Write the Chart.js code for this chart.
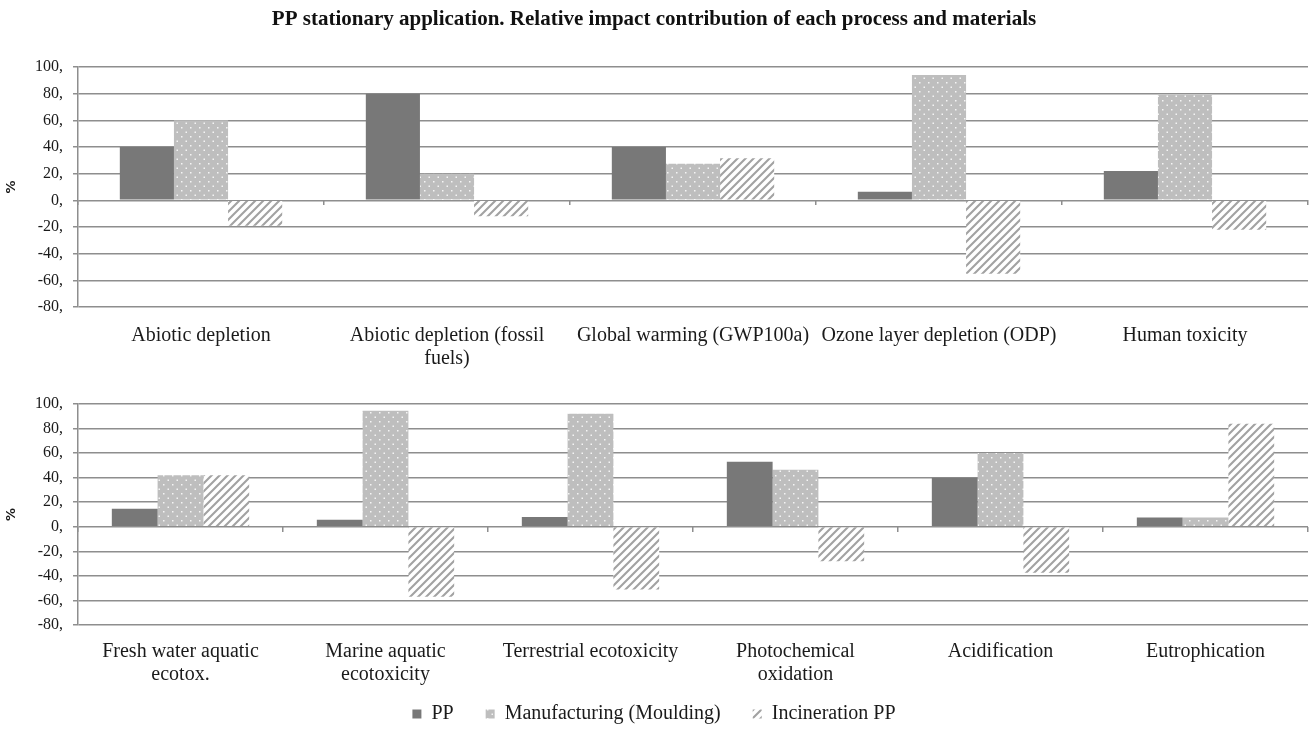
<!DOCTYPE html>
<html lang="en">
<head>
<meta charset="utf-8">
<title>PP stationary application</title>
<style>
  body { margin: 0; background: #ffffff; }
  #wrap { position: relative; width: 1309px; height: 729px; }
  canvas { position: absolute; left: 0; }
  #topChart { top: 0; }
  #bottomChart { top: 375px; }
</style>
</head>
<body>
<div id="wrap">
  <canvas id="topChart" width="1309" height="375"></canvas>
  <canvas id="bottomChart" width="1309" height="354"></canvas>
</div>

<script src="https://cdn.jsdelivr.net/npm/chart.js"></script>
<script>
// ---- data ----
const seriesNames = ['PP', 'Manufacturing (Moulding)', 'Incineration PP'];

const topCategories = [
  'Abiotic depletion',
  ['Abiotic depletion (fossil', 'fuels)'],
  'Global warming (GWP100a)',
  'Ozone layer depletion (ODP)',
  'Human toxicity'
];
const topPP   = [40, 80, 40, 6.5, 22];
const topMfg  = [60, 20, 27.5, 94, 79];
const topInc  = [-19, -12, 31.5, -55, -22];

const bottomCategories = [
  ['Fresh water aquatic', 'ecotox.'],
  ['Marine aquatic', 'ecotoxicity'],
  'Terrestrial ecotoxicity',
  ['Photochemical', 'oxidation'],
  'Acidification',
  'Eutrophication'
];
const bottomPP  = [14.7, 5.7, 8, 53, 40, 7.5];
const bottomMfg = [42, 94.5, 92, 46.5, 60, 7.5];
const bottomInc = [42, -57, -51, -28, -37.5, 84];

const yMin = -80, yMax = 100, yStep = 20;
const yUnit = '%';
const chartTitle = 'PP stationary application. Relative impact contribution of each process and materials';

// ---- styles ----
const serif = "'Liberation Serif', 'Times New Roman', serif";
const gridColor = '#8e8e8e';
const textColor = '#1a1a1a';
const ppColor = '#787878';

function dotPattern() {
  const c = document.createElement('canvas');
  c.width = 9; c.height = 9;
  const g = c.getContext('2d');
  g.fillStyle = '#bebebe';
  g.fillRect(0, 0, 9, 9);
  g.fillStyle = '#f4f4f4';
  g.fillRect(1, 1, 1.5, 1.5);
  g.fillRect(5.5, 5.5, 1.5, 1.5);
  return g.createPattern(c, 'repeat');
}

function stripePattern() {
  const s = 8;
  const c = document.createElement('canvas');
  c.width = s; c.height = s;
  const g = c.getContext('2d');
  g.fillStyle = '#ffffff';
  g.fillRect(0, 0, s, s);
  g.strokeStyle = '#a2a2a2';
  g.lineWidth = 2.1;
  g.beginPath();
  g.moveTo(-2, s + 2); g.lineTo(s + 2, -2);
  g.moveTo(-2, 2); g.lineTo(2, -2);
  g.moveTo(s - 2, s + 2); g.lineTo(s + 2, s - 2);
  g.stroke();
  return g.createPattern(c, 'repeat');
}

const dots = dotPattern();
const stripes = stripePattern();

function datasets(pp, mfg, inc) {
  return [
    { label: seriesNames[0], data: pp, backgroundColor: ppColor, borderWidth: 0 },
    { label: seriesNames[1], data: mfg, backgroundColor: dots, borderWidth: 0 },
    { label: seriesNames[2], data: inc, backgroundColor: stripes, borderWidth: 0 }
  ];
}

function scales(xHeight, xPad) {
  return {
    x: {
      grid: { display: false },
      border: { display: false },
      ticks: {
        font: { family: serif, size: 20, lineHeight: 1.15 },
        color: textColor,
        padding: xPad,
        maxRotation: 0,
        autoSkip: false
      },
      afterFit: s => { s.height = xHeight; }
    },
    // short tick marks on the zero line between categories
    x2: {
      axis: 'x',
      type: 'category',
      position: { y: 0 },
      offset: true,
      grid: {
        display: true, offset: true, drawOnChartArea: false,
        drawTicks: true, tickLength: 5, color: gridColor, lineWidth: 1.5
      },
      border: { display: false },
      ticks: { display: false }
    },
    y: {
      min: yMin, max: yMax,
      ticks: {
        stepSize: yStep,
        font: { family: serif, size: 16 },
        color: textColor,
        padding: 10,
        callback: v => v + ','
      },
      grid: { color: gridColor, lineWidth: 1.5, tickLength: 5 },
      border: { display: true, color: gridColor, width: 1.5 },
      title: {
        display: true, text: yUnit,
        font: { family: "'DejaVu Sans', sans-serif", size: 13, weight: 'bold' },
        color: textColor,
        padding: { top: 4, bottom: 0 }
      },
      afterFit: s => { s.width = 78; }
    }
  };
}

// legend sits low under the bottom chart, overlapping the label band
const lowLegend = {
  id: 'lowLegend',
  afterInit(chart) {
    const lg = chart.legend;
    if (!lg) return;
    const fit = lg.fit.bind(lg);
    lg.fit = function () { fit(); this.height = 34; };
  },
  afterLayout(chart) {
    const lg = chart.legend;
    if (!lg) return;
    lg.top = lg.bottom - 57;
    lg.height = 57;
  }
};

Chart.defaults.font.family = serif;

new Chart(document.getElementById('topChart'), {
  type: 'bar',
  data: { labels: topCategories, datasets: datasets(topPP, topMfg, topInc) },
  options: {
    responsive: false,
    animation: false,
    devicePixelRatio: 1,
    datasets: { bar: { categoryPercentage: 0.66, barPercentage: 1.0 } },
    layout: { padding: { left: 0, right: 1, top: 0, bottom: 0 } },
    plugins: {
      legend: { display: false },
      tooltip: { enabled: false },
      title: {
        display: true,
        text: chartTitle,
        font: { family: serif, size: 21, weight: 'bold' },
        color: '#111111',
        padding: { top: 7.4, bottom: 34.4 }
      }
    },
    scales: scales(68, 9.5)
  }
});

new Chart(document.getElementById('bottomChart'), {
  type: 'bar',
  data: { labels: bottomCategories, datasets: datasets(bottomPP, bottomMfg, bottomInc) },
  options: {
    responsive: false,
    animation: false,
    devicePixelRatio: 1,
    datasets: { bar: { categoryPercentage: 0.67, barPercentage: 1.0 } },
    layout: { padding: { left: 0, right: 1, top: 29, bottom: 0 } },
    plugins: {
      tooltip: { enabled: false },
      legend: {
        position: 'bottom',
        labels: {
          font: { family: serif, size: 20 },
          color: textColor,
          boxWidth: 9,
          boxHeight: 9,
          padding: 32
        }
      }
    },
    scales: scales(70, 7.5)
  },
  plugins: [lowLegend]
});
</script>
</body>
</html>
